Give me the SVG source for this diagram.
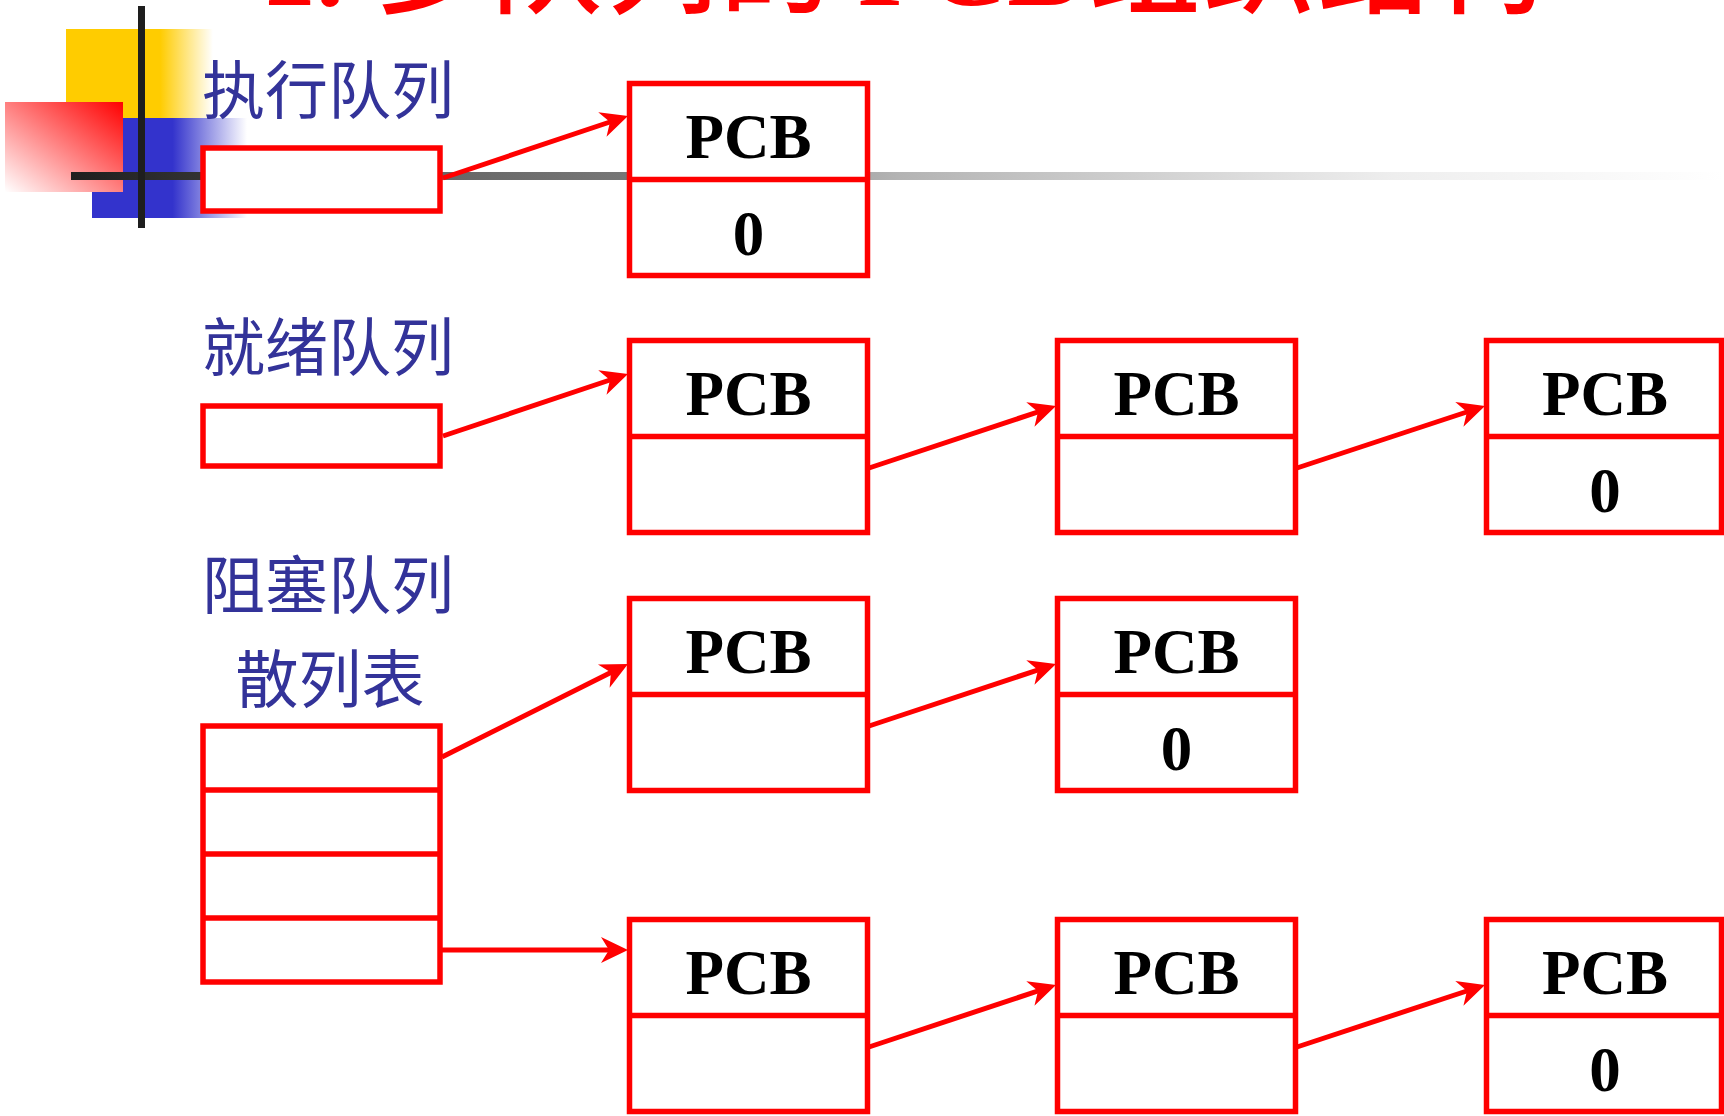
<svg xmlns="http://www.w3.org/2000/svg" width="1724" height="1116" viewBox="0 0 1724 1116">
  <defs>
    <style>
      .box { fill: #ffffff; stroke: #ff0000; stroke-width: 5.5; }
      .div { fill: none; stroke: #ff0000; stroke-width: 5.5; }
      .link { fill: none; stroke: #ff0000; stroke-width: 5; marker-end: url(#head); }
      .pcb { font-family: "Liberation Serif", "Times New Roman", serif; font-weight: bold; font-size: 63px; fill: #000000; text-anchor: middle; }
      .label { font-family: "Noto Sans CJK SC", "Noto Sans", sans-serif; font-size: 63px; fill: #333399; }
      .title { font-family: "Liberation Serif", "Noto Sans CJK SC", serif; font-weight: bold; font-size: 112px; fill: #ff0000; }
      .title .cjk { font-family: "Noto Sans CJK SC", sans-serif; font-weight: 500; }
    </style>
    <marker id="head" markerUnits="userSpaceOnUse" viewBox="-22 -15 34 30" markerWidth="34" markerHeight="30" refX="0" refY="0" orient="auto">
      <path d="M8,0 L-19,-13 L-11,0 L-19,13 Z" fill="#ff0000"/>
    </marker>
    <linearGradient id="yellowFade" x1="0" y1="0" x2="1" y2="0">
      <stop offset="0" stop-color="#ffcc00"/>
      <stop offset="0.64" stop-color="#ffcc00"/>
      <stop offset="1" stop-color="#ffcc00" stop-opacity="0"/>
    </linearGradient>
    <linearGradient id="blueFade" x1="0" y1="0" x2="1" y2="0">
      <stop offset="0" stop-color="#3333cc"/>
      <stop offset="0.52" stop-color="#3333cc"/>
      <stop offset="1" stop-color="#3333cc" stop-opacity="0"/>
    </linearGradient>
    <linearGradient id="redFade" x1="1" y1="0" x2="0" y2="1">
      <stop offset="0" stop-color="#ff0000"/>
      <stop offset="1" stop-color="#ffffff"/>
    </linearGradient>
    <linearGradient id="rule" gradientUnits="userSpaceOnUse" x1="71" y1="0" x2="1724" y2="0">
      <stop offset="0" stop-color="#1e1e1e"/>
      <stop offset="0.08" stop-color="#333333"/>
      <stop offset="0.22" stop-color="#666666"/>
      <stop offset="0.34" stop-color="#777777"/>
      <stop offset="0.5" stop-color="#b3b3b3"/>
      <stop offset="0.8" stop-color="#eeeeee"/>
      <stop offset="1" stop-color="#ffffff"/>
    </linearGradient>
  </defs>

  <rect width="1724" height="1116" fill="#ffffff"/>

  <!-- heading, mostly above the top edge -->
  <text class="title" y="5">
    <tspan x="260">1.</tspan>
    <tspan class="cjk" x="375" letter-spacing="3">多队列的</tspan>
    <tspan x="858">PCB</tspan>
    <tspan class="cjk" x="1088" letter-spacing="3">组织结构</tspan>
  </text>

  <!-- corner ornament and rule -->
  <g id="ornament">
    <rect x="66" y="29" width="147" height="89" fill="url(#yellowFade)"/>
    <rect x="92" y="118" width="155" height="100" fill="url(#blueFade)"/>
    <rect x="5" y="102" width="118" height="90" fill="url(#redFade)"/>
    <rect x="71" y="172" width="1653" height="8" fill="url(#rule)"/>
    <rect x="138" y="6" width="7" height="222" fill="#1e1e1e"/>
  </g>

  <!-- queue heads -->
  <g id="run-queue">
    <text class="label" x="202" y="113">执行队列</text>
    <rect class="box" x="203" y="148" width="237" height="63"/>
  </g>
  <g id="ready-queue">
    <text class="label" x="202" y="370">就绪队列</text>
    <rect class="box" x="203" y="406" width="237" height="60"/>
  </g>
  <g id="blocked-queue">
    <text class="label" x="202" y="608">阻塞队列</text>
    <text class="label" x="330" y="702" text-anchor="middle">散列表</text>
    <rect class="box" x="203" y="726" width="237" height="256"/>
    <path class="div" d="M203,790 H440 M203,854 H440 M203,918 H440"/>
  </g>

  <!-- connectors -->
  <g id="connectors">
    <line class="link" x1="443" y1="178" x2="620.4" y2="118.5"/>
    <line class="link" x1="443" y1="436" x2="620.4" y2="376.5"/>
    <line class="link" x1="869" y1="468" x2="1048.4" y2="408.5"/>
    <line class="link" x1="1297" y1="468" x2="1477.4" y2="408.5"/>
    <line class="link" x1="442" y1="757" x2="620.8" y2="667.6"/>
    <line class="link" x1="869" y1="726" x2="1048.4" y2="666.5"/>
    <line class="link" x1="442" y1="950" x2="620" y2="950"/>
    <line class="link" x1="869" y1="1047" x2="1048.4" y2="987.5"/>
    <line class="link" x1="1297" y1="1047" x2="1477.4" y2="987.5"/>
  </g>

  <!-- PCB nodes: row 1 (running) -->
  <g id="pcb-run-1">
    <rect class="box" x="629.5" y="83.5" width="238" height="192"/>
    <line class="div" x1="629.5" y1="179.5" x2="867.5" y2="179.5"/>
    <text class="pcb" x="748.5" y="158">PCB</text>
    <text class="pcb" x="748.5" y="255">0</text>
  </g>

  <!-- row 2 (ready) -->
  <g id="pcb-ready-1">
    <rect class="box" x="629.5" y="340.5" width="238" height="192"/>
    <line class="div" x1="629.5" y1="436.5" x2="867.5" y2="436.5"/>
    <text class="pcb" x="748.5" y="415">PCB</text>
  </g>
  <g id="pcb-ready-2">
    <rect class="box" x="1057.5" y="340.5" width="238" height="192"/>
    <line class="div" x1="1057.5" y1="436.5" x2="1295.5" y2="436.5"/>
    <text class="pcb" x="1176.5" y="415">PCB</text>
  </g>
  <g id="pcb-ready-3">
    <rect class="box" x="1486.5" y="340.5" width="235" height="192"/>
    <line class="div" x1="1486.5" y1="436.5" x2="1721.5" y2="436.5"/>
    <text class="pcb" x="1605" y="415">PCB</text>
    <text class="pcb" x="1605" y="512">0</text>
  </g>

  <!-- row 3 (blocked, first bucket) -->
  <g id="pcb-blocked-a1">
    <rect class="box" x="629.5" y="598.5" width="238" height="192"/>
    <line class="div" x1="629.5" y1="694.5" x2="867.5" y2="694.5"/>
    <text class="pcb" x="748.5" y="673">PCB</text>
  </g>
  <g id="pcb-blocked-a2">
    <rect class="box" x="1057.5" y="598.5" width="238" height="192"/>
    <line class="div" x1="1057.5" y1="694.5" x2="1295.5" y2="694.5"/>
    <text class="pcb" x="1176.5" y="673">PCB</text>
    <text class="pcb" x="1176.5" y="770">0</text>
  </g>

  <!-- row 4 (blocked, last bucket) -->
  <g id="pcb-blocked-b1">
    <rect class="box" x="629.5" y="919.5" width="238" height="192"/>
    <line class="div" x1="629.5" y1="1015.5" x2="867.5" y2="1015.5"/>
    <text class="pcb" x="748.5" y="994">PCB</text>
  </g>
  <g id="pcb-blocked-b2">
    <rect class="box" x="1057.5" y="919.5" width="238" height="192"/>
    <line class="div" x1="1057.5" y1="1015.5" x2="1295.5" y2="1015.5"/>
    <text class="pcb" x="1176.5" y="994">PCB</text>
  </g>
  <g id="pcb-blocked-b3">
    <rect class="box" x="1486.5" y="919.5" width="235" height="192"/>
    <line class="div" x1="1486.5" y1="1015.5" x2="1721.5" y2="1015.5"/>
    <text class="pcb" x="1605" y="994">PCB</text>
    <text class="pcb" x="1605" y="1091">0</text>
  </g>
</svg>
